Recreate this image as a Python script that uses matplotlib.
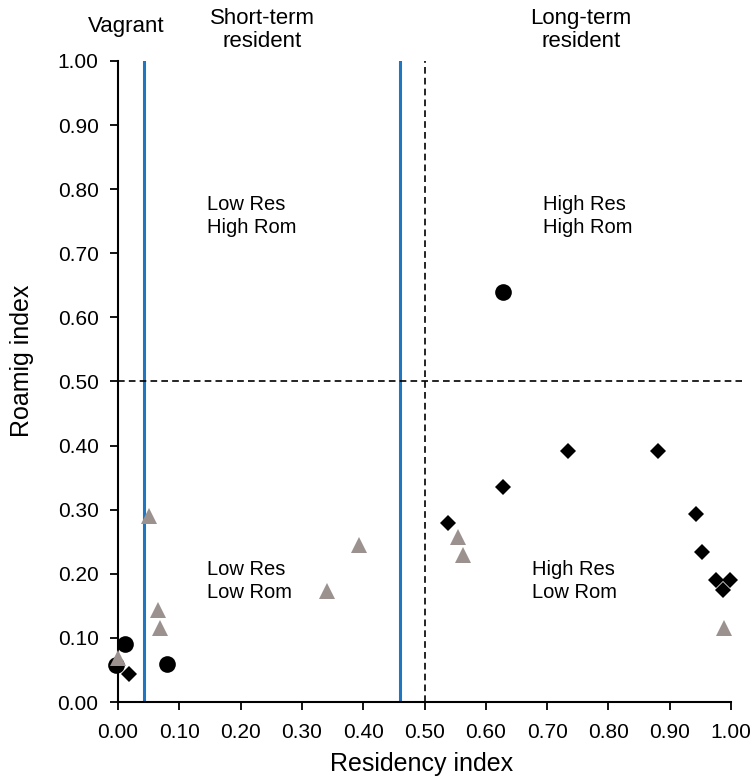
import matplotlib.pyplot as plt

plt.rcParams['font.family'] = ['Liberation Sans', 'DejaVu Sans']

# circles
circle_x = [0.628, 0.011, -0.004, 0.080]
circle_y = [0.640, 0.090, 0.058, 0.059]

# diamonds
diamond_x = [0.018, 0.538, 0.628, 0.734, 0.881, 0.943, 0.953, 0.976, 0.998, 0.987]
diamond_y = [0.044, 0.279, 0.335, 0.392, 0.392, 0.293, 0.234, 0.190, 0.190, 0.175]

# triangles
tri_x = [0.051, 0.065, 0.068, 0.000, 0.341, 0.393, 0.555, 0.563, 0.989]
tri_y = [0.290, 0.143, 0.115, 0.069, 0.173, 0.245, 0.258, 0.229, 0.115]

# category cut-offs
vagrant_cut = 0.042
short_cut = 0.46
mid = 0.5

ticks = [0.0, 0.1, 0.2, 0.3, 0.4, 0.5, 0.6, 0.7, 0.8, 0.9, 1.0]

fig = plt.figure(figsize=(7.54, 7.82), dpi=100)
ax = fig.add_axes([0.1565, 0.1023, 0.813, 0.8197])

ax.plot([vagrant_cut, vagrant_cut], [0, 1], color='#2176c2', lw=2.2, zorder=1)
ax.plot([short_cut, short_cut], [0, 1], color='#2176c2', lw=2.2, zorder=1)
ax.plot([mid, mid], [0, 1], color='black', lw=1.2, ls=(0, (4, 2.5)), zorder=1)
ax.plot([0, 1.018], [mid, mid], color='black', lw=1.2, ls=(0, (4, 2.5)), zorder=1,
        clip_on=False)

ax.plot(circle_x, circle_y, 'o', color='black', ms=12, mew=0, zorder=3, clip_on=False)
ax.plot(tri_x, tri_y, '^', color='#9b918e', ms=11, mew=0, zorder=4, clip_on=False)
ax.plot(diamond_x, diamond_y, 'D', color='black', ms=8, mew=0, zorder=5, clip_on=False)

# quadrant labels
fs = 14.5
kw = dict(fontsize=fs, ha='left', va='baseline', linespacing=1.28)
ax.text(0.145, 0.7317, 'Low Res\nHigh Rom', **kw)
ax.text(0.693, 0.7317, 'High Res\nHigh Rom', **kw)
ax.text(0.145, 0.1622, 'Low Res\nLow Rom', **kw)
ax.text(0.675, 0.1622, 'High Res\nLow Rom', **kw)

# group labels above the plot
kw2 = dict(fontsize=16, ha='center', va='baseline', linespacing=1.12, clip_on=False)
ax.text(0.013, 1.0452, 'Vagrant', **kw2)
ax.text(0.235, 1.0218, 'Short-term\nresident', **kw2)
ax.text(0.755, 1.0218, 'Long-term\nresident', **kw2)

ax.set_xlim(0, 1)
ax.set_ylim(0, 1)
ax.set_xticks(ticks)
ax.set_yticks(ticks)
ax.set_xticklabels([f'{t:.2f}' for t in ticks])
ax.set_yticklabels([f'{t:.2f}' for t in ticks])
ax.tick_params(labelsize=15, length=6, width=1.3, direction='out')
ax.tick_params(axis='x', pad=9)
ax.tick_params(axis='y', pad=8)
for s in ['top', 'right']:
    ax.spines[s].set_visible(False)
for s in ['left', 'bottom']:
    ax.spines[s].set_linewidth(1.5)

ax.set_xlabel('Residency index', fontsize=18)
ax.set_ylabel('Roamig index', fontsize=18)
ax.xaxis.set_label_coords(0.495, -0.078)
ax.yaxis.set_label_coords(-0.137, 0.533)

fig.savefig('out.png', dpi=100)
